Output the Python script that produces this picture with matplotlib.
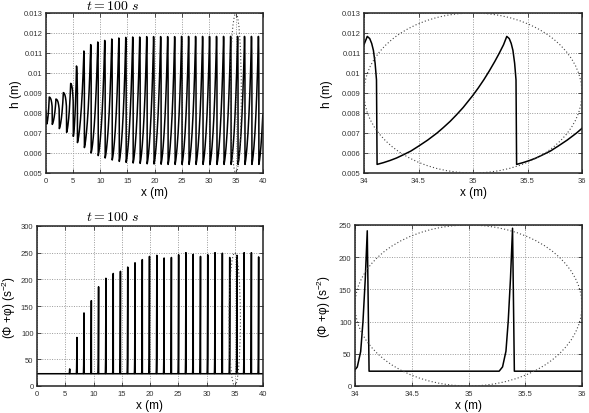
import numpy as np
import matplotlib
matplotlib.use('Agg')
import matplotlib.pyplot as plt
from matplotlib.patches import Ellipse
from matplotlib.ticker import FormatStrFormatter

# ---- data ----
# free-surface height h(x): start point, then crest/trough pairs for every wave
h_start = (0.0, 0.0081)
first_trough = (0.15, 0.00745)
crest_x = [0.60, 1.84, 3.20, 4.55, 5.62, 6.98, 8.24, 9.54, 10.82, 12.12, 13.42,
           14.70, 15.98, 17.27, 18.56, 19.83, 21.13, 22.42, 23.71, 24.99, 26.28,
           27.57, 28.86, 30.14, 31.43, 32.73, 34.03, 35.31, 36.59, 37.87, 39.15]
crest_h = [0.00880, 0.00870, 0.00902, 0.00948, 0.01035, 0.01110, 0.01142, 0.01155,
           0.01163, 0.01170, 0.01175, 0.01178, 0.01180, 0.01180, 0.01182, 0.01182,
           0.01182, 0.01182, 0.01182, 0.01183, 0.01183, 0.01183, 0.01183, 0.01183,
           0.01183, 0.01183, 0.01183, 0.01183, 0.01183, 0.01183, 0.01183]
trough_x = [1.16, 2.46, 3.80, 5.04, 5.80, 7.08, 8.33, 9.63, 10.91, 12.21, 13.51,
            14.78, 16.07, 17.36, 18.65, 19.92, 21.22, 22.51, 23.80, 25.08, 26.37,
            27.66, 28.95, 30.23, 31.52, 32.82, 34.12, 35.40, 36.68, 37.96, 39.24]
trough_h = [0.00743, 0.00722, 0.00703, 0.00683, 0.00652, 0.00627, 0.00600, 0.00587,
            0.00575, 0.00565, 0.00558, 0.00553, 0.00550, 0.00548, 0.00546, 0.00545,
            0.00544, 0.00543, 0.00543, 0.00543, 0.00543, 0.00543, 0.00543, 0.00543,
            0.00543, 0.00543, 0.00543, 0.00543, 0.00543, 0.00543, 0.00543]

# tooth shape (34-36 m), normalised
rise_s = [0, 0.05, 0.101, 0.15, 0.202, 0.26, 0.319, 0.39, 0.462, 0.51, 0.563, 0.61,
          0.664, 0.70, 0.739, 0.78, 0.824, 0.865, 0.908, 0.94, 0.975, 1.0]
rise_v = [0, 0.014, 0.031, 0.05, 0.075, 0.104, 0.142, 0.19, 0.245, 0.287, 0.336, 0.385,
          0.445, 0.49, 0.54, 0.597, 0.663, 0.73, 0.805, 0.865, 0.935, 1.0]
fall_u = [0, 0.25, 0.45, 0.625, 0.8, 0.94, 1.0]
fall_v = [1, 0.983, 0.945, 0.891, 0.79, 0.66, 0]

# (Phi + phi) source term: baseline and spike peaks at the wave fronts (waves 5..31)
phi_base = 23.0
spike_peak = [32, 91, 137, 160, 186, 202, 211, 215, 223, 231, 237, 243, 245, 240,
              241, 246, 250, 247, 243, 246, 250, 249, 241, 245, 250, 250, 242]
spike_d = [-0.13, -0.10, -0.07, -0.05, -0.03, -0.012, 0.004]
spike_v = [0, 0.03, 0.14, 0.35, 0.65, 1.0, 0]

# ---- build curves ----
hx = [h_start[0], first_trough[0]]
hy = [h_start[1], first_trough[1]]
prev_x, prev_h = first_trough
for cx, ch, tx, th in zip(crest_x, crest_h, trough_x, trough_h):
    for s, v in zip(rise_s[1:], rise_v[1:]):
        hx.append(prev_x + s * (cx - prev_x))
        hy.append(prev_h + v * (ch - prev_h))
    for u, v in zip(fall_u[1:], fall_v[1:]):
        hx.append(cx + u * (tx - cx))
        hy.append(th + v * (ch - th))
    prev_x, prev_h = tx, th
# last partial rise up to x = 40
for s, v in zip(rise_s[1:], rise_v[1:]):
    xx = prev_x + s * (1.19)
    if xx > 40.0:
        break
    hx.append(xx)
    hy.append(prev_h + v * (0.01183 - prev_h))

px = [0.0]
py = [phi_base]
for tx, pk in zip(trough_x[4:], spike_peak):
    for d, v in zip(spike_d, spike_v):
        px.append(tx + d)
        py.append(phi_base + v * (pk - phi_base))
px.append(40.0)
py.append(phi_base)

# ---- style ----
plt.rcParams['font.family'] = ['Liberation Sans', 'DejaVu Sans']
plt.rcParams['mathtext.fontset'] = 'custom'
plt.rcParams['mathtext.rm'] = 'Liberation Sans'
plt.rcParams['mathtext.it'] = 'Liberation Sans:italic'

fig = plt.figure(figsize=(5.89, 4.14), dpi=100)
W, H = 589.0, 414.0


def make_ax(l, t, r, b):
    return fig.add_axes([l / W, 1 - b / H, (r - l) / W, (b - t) / H])


def style(ax, xlabel, ylabel, ypad):
    ax.grid(True, color='#9a9a9a', linestyle=(0, (1, 1.5)), linewidth=0.7)
    ax.tick_params(direction='in', length=3, width=0.6, labelsize=5.5,
                   top=True, right=True, pad=3, colors='#333333')
    ax.tick_params(axis='y', pad=2.5)
    for sp in ax.spines.values():
        sp.set_linewidth(1.1)
        sp.set_color('#222222')
    ax.set_xlabel(xlabel, fontsize=8.5, labelpad=1)
    ax.set_ylabel(ylabel, fontsize=8.5, labelpad=ypad)


def ellipse(ax, cy, hgt):
    ax.add_patch(Ellipse((35.0, cy), 2.0, hgt, fill=False, color='#444444',
                         linestyle=(0, (1, 2)), linewidth=0.8, zorder=3))


ax1 = make_ax(46, 14, 263, 174)
ax1.plot(hx, hy, color='black', lw=1.1)
ax1.set_xlim(0, 40)
ax1.set_ylim(0.005, 0.013)
ax1.set_xticks(np.arange(0, 41, 5))
ax1.set_yticks(np.arange(0.005, 0.01301, 0.001))
ax1.yaxis.set_major_formatter(FormatStrFormatter('%g'))
ellipse(ax1, 0.009, 0.008)
style(ax1, 'x (m)', 'h (m)', 1.5)

ax2 = make_ax(364, 14, 582, 174)
ax2.plot(hx, hy, color='black', lw=1.1)
ax2.set_xlim(34, 36)
ax2.set_ylim(0.005, 0.013)
ax2.set_xticks([34, 34.5, 35, 35.5, 36])
ax2.set_yticks(np.arange(0.005, 0.01301, 0.001))
ax2.xaxis.set_major_formatter(FormatStrFormatter('%g'))
ax2.yaxis.set_major_formatter(FormatStrFormatter('%g'))
ellipse(ax2, 0.009, 0.008)
style(ax2, 'x (m)', 'h (m)', 6)

ax3 = make_ax(37, 227, 263, 387)
ax3.plot(px, py, color='black', lw=1.1)
ax3.set_xlim(0, 40)
ax3.set_ylim(0, 300)
ax3.set_xticks(np.arange(0, 41, 5))
ax3.set_yticks(np.arange(0, 301, 50))
ellipse(ax3, 125, 250)
style(ax3, 'x (m)', r'(Φ +φ) (s$^{-2}$)', 2)

ax4 = make_ax(355, 226, 582, 387)
ax4.plot(px, py, color='black', lw=1.1)
ax4.set_xlim(34, 36)
ax4.set_ylim(0, 250)
ax4.set_xticks([34, 34.5, 35, 35.5, 36])
ax4.set_yticks(np.arange(0, 251, 50))
ax4.xaxis.set_major_formatter(FormatStrFormatter('%g'))
ellipse(ax4, 125, 250)
style(ax4, 'x (m)', r'(Φ +φ) (s$^{-2}$)', 4.5)

fig.text(113 / W, 1 - 10 / H, r'$t = 100\ s$', fontsize=10, math_fontfamily='cm',
         ha='center', va='baseline')
fig.text(113 / W, 1 - 221 / H, r'$t = 100\ s$', fontsize=10, math_fontfamily='cm',
         ha='center', va='baseline')

fig.savefig('out.png', dpi=100)
